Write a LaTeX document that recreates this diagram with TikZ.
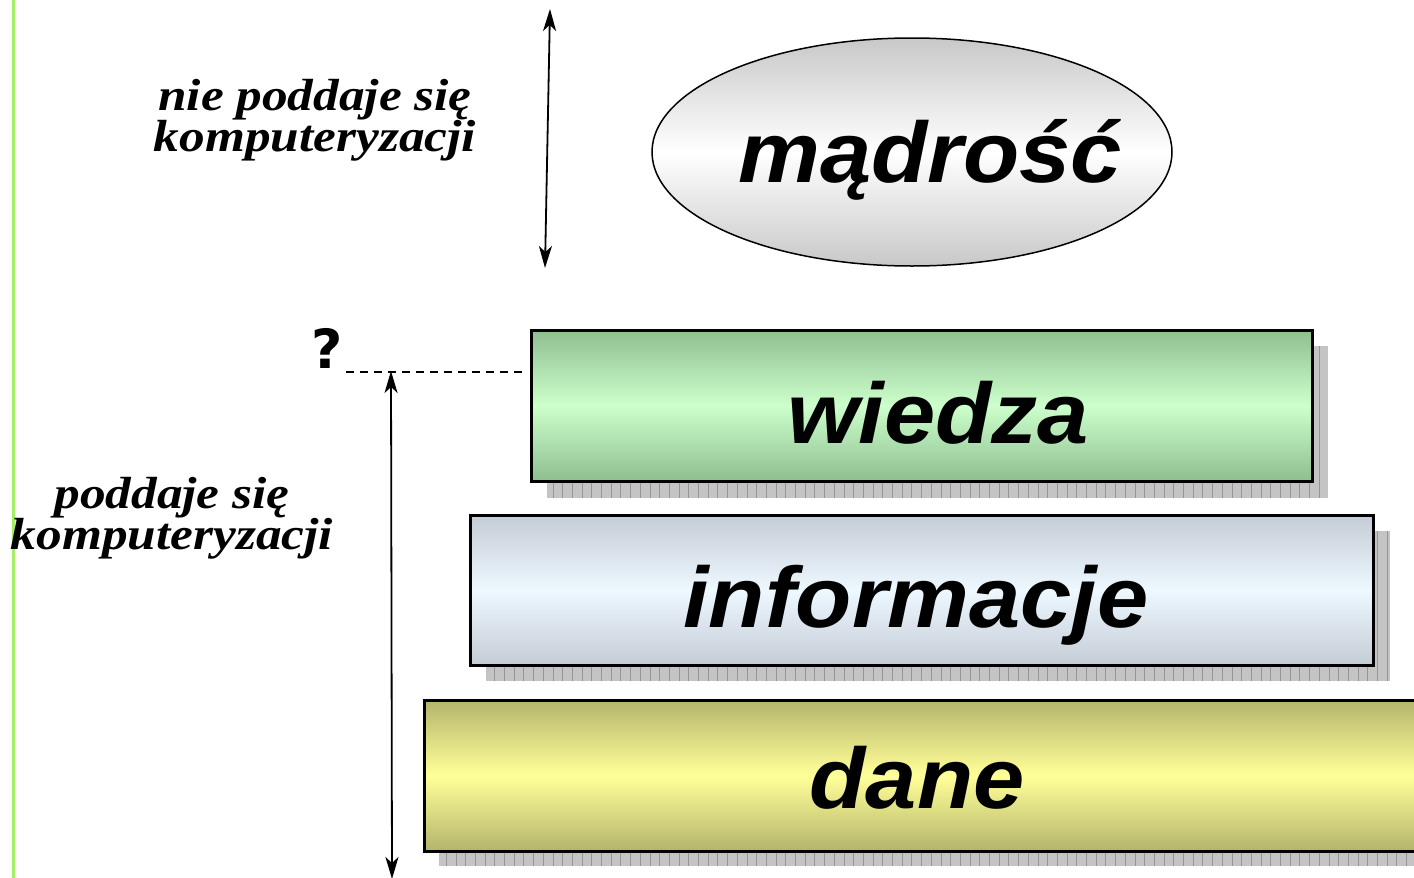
\documentclass[tikz,border=0pt]{standalone}
\usepackage{fontspec}
\setmainfont{Liberation Serif}
\newfontfamily\lserif[FakeStretch=1.14]{Liberation Serif}
\newfontfamily\lsans[FakeStretch=1.07]{Liberation Sans}
\newfontfamily\dejab{DejaVu Sans}
\usetikzlibrary{shapes.geometric,arrows.meta}
\definecolor{limeline}{RGB}{164,240,100}
\definecolor{grnedge}{RGB}{143,190,143}
\definecolor{grnmid}{RGB}{204,255,204}
\definecolor{bluedge}{RGB}{196,204,214}
\definecolor{blumid}{RGB}{238,248,255}
\definecolor{yeledge}{RGB}{180,180,108}
\definecolor{yelmid}{RGB}{255,255,153}
\definecolor{elledge}{RGB}{200,200,200}
\definecolor{shgray}{RGB}{196,196,196}
\definecolor{shline}{RGB}{150,150,150}
\newcommand{\myshadow}[2]{%
  \begin{scope}
    \clip #1 rectangle #2;
    \fill[shgray] #1 rectangle #2;
    \draw[shline,line width=0.8pt,step=9.7] #1 grid #2;
  \end{scope}}
\tikzset{
  layerbox/.style={draw=black,line width=3pt,rectangle,inner sep=0pt,outer sep=0pt},
  bigword/.style={font=\lsans\bfseries\itshape\fontsize{86}{86}\selectfont,anchor=base,inner sep=0pt},
  serifnote/.style={font=\lserif\bfseries\itshape\fontsize{45}{41}\selectfont,align=center,inner sep=0pt},
  dblarrow/.style={line width=1.8pt,{Stealth[length=22pt,width=13pt,inset=6pt]}-{Stealth[length=22pt,width=13pt,inset=6pt]}}
}
\begin{document}
\begin{tikzpicture}[x=1pt,y=-1pt]
\useasboundingbox (0,0) rectangle (1414,878);
\fill[white] (0,0) rectangle (1414,878);
% left green line
\draw[limeline,line width=2.6pt] (13.5,-5) -- (13.5,883);
% shadows
\myshadow{(547,346)}{(1328,498)}
\myshadow{(486,531)}{(1390,681)}
\myshadow{(439,716)}{(1440,866)}
% boxes
\node[layerbox,minimum width=781pt,minimum height=151pt,top color=grnedge,bottom color=grnedge,middle color=grnmid] (wiedzabox) at (921.5,405.5) {};
\node[layerbox,minimum width=903pt,minimum height=150pt,top color=bluedge,bottom color=bluedge,middle color=blumid] (infobox) at (921.5,590) {};
\node[layerbox,minimum width=1010pt,minimum height=151pt,top color=yeledge,bottom color=yeledge,middle color=yelmid] (danebox) at (929,775.5) {};
% ellipse
\node[ellipse,draw=black,line width=1.5pt,minimum width=520pt,minimum height=228pt,inner sep=0pt,top color=elledge,bottom color=elledge,middle color=white] (madrosc) at (912,152) {};
% words
\node[bigword] (tmadrosc) at (930,182) {mądrość};
\node[bigword] (twiedza) at (938,443) {wiedza};
\node[bigword] (tinfo) at (916,627) {informacje};
\node[bigword] (tdane) at (917,808) {dane};
% notes
\node[serifnote] (nie) at (315,120) {nie poddaje się\\komputeryzacji};
\node[serifnote] (tak) at (172,518) {poddaje się\\komputeryzacji};
\node[font=\dejab\bfseries\fontsize{54}{54}\selectfont,inner sep=0pt] (q) at (327,348) {?};
% arrows and dashed line
\coordinate (a1) at (550,9);
\coordinate (a2) at (545,268);
\draw[dblarrow] (a1) -- (a2);
\coordinate (d1) at (346,372);
\coordinate (d2) at (522,372);
\draw[dashed,line width=1.5pt,dash pattern=on 8pt off 6pt] (d1) -- (d2);
\coordinate (b1) at (391,371);
\coordinate (b2) at (392,879);
\draw[dblarrow] (b1) -- (b2);
\end{tikzpicture}
\end{document}
